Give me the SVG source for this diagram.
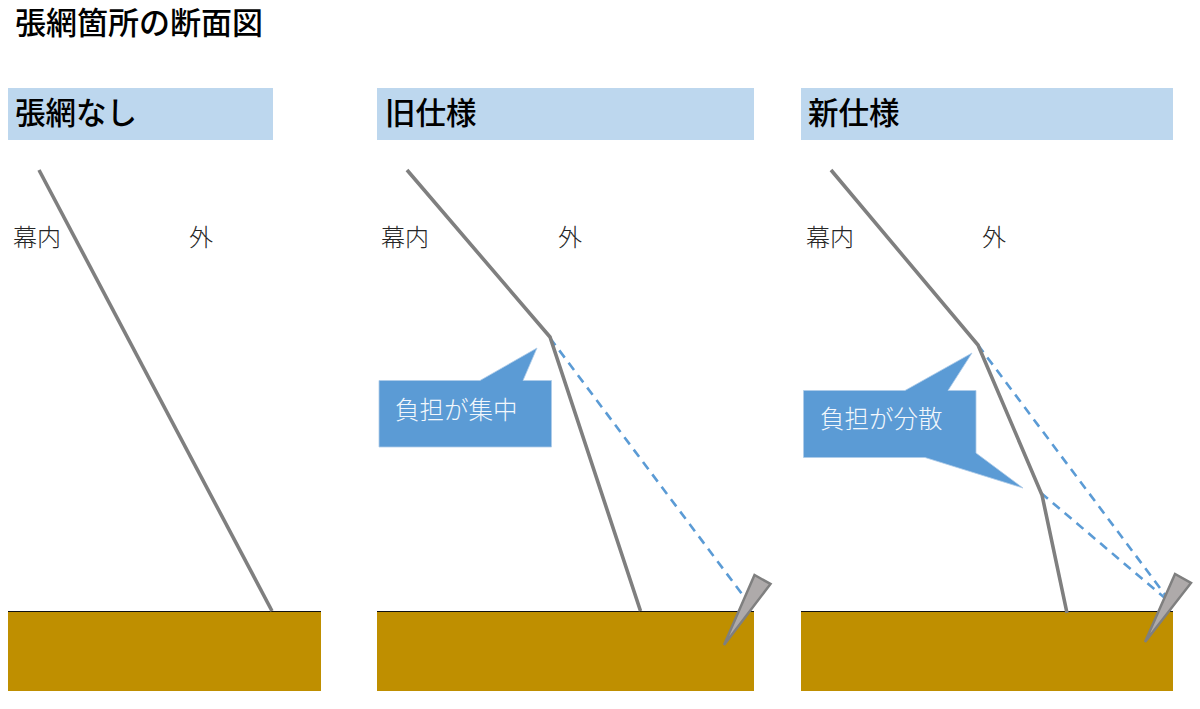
<svg xmlns="http://www.w3.org/2000/svg" width="1200" height="709" viewBox="0 0 1200 709">
<style>
text{font-family:"Noto Sans CJK JP","Noto Sans",sans-serif}
.title{font-size:31px;font-weight:500;fill:#000}
.head{font-size:30.500px;font-weight:500;fill:#000}
.lab{font-size:24px;font-weight:300;fill:#262626}
.call{font-size:24.500px;font-weight:300;fill:#f2f7fc}
.band{fill:#bdd7ee}
.ground{fill:#bf8f00}
.gl{stroke:#111;stroke-width:1.2;fill:none}
.net{stroke:#7f7f7f;stroke-width:3.6;fill:none;stroke-linejoin:miter}
.dash{stroke:#5b9bd5;stroke-width:2.6;stroke-dasharray:9 6.5;fill:none}
.bub{fill:#5b9bd5;stroke:#aecbe9;stroke-width:.8}
.peg{fill:#aeaaaa;stroke:#7f7f7f;stroke-width:2.5;stroke-linejoin:miter}
</style>
<text class="title" x="15" y="34">張網箇所の断面図</text>
<g id="panel-none">
<rect class="band" x="8" y="88" width="265" height="52"/>
<text class="head" x="15" y="124">張網なし</text>
<text class="lab" x="13" y="246">幕内</text>
<text class="lab" x="189" y="246">外</text>
<rect class="ground" x="8" y="612" width="313" height="79"/>
<line class="gl" x1="8" y1="611.500" x2="321" y2="611.500"/>
</g>
<g id="panel-old">
<rect class="band" x="377" y="88" width="377" height="52"/>
<text class="head" x="385" y="124">旧仕様</text>
<text class="lab" x="381" y="246">幕内</text>
<text class="lab" x="558" y="246">外</text>
<rect class="ground" x="377" y="612" width="377" height="79"/>
<line class="gl" x1="377" y1="611.500" x2="754" y2="611.500"/>
</g>
<g id="panel-new">
<rect class="band" x="801" y="88" width="372" height="52"/>
<text class="head" x="808" y="124">新仕様</text>
<text class="lab" x="806" y="246">幕内</text>
<text class="lab" x="982" y="246">外</text>
<rect class="ground" x="801" y="612" width="372" height="79"/>
<line class="gl" x1="801" y1="611.500" x2="1173" y2="611.500"/>
</g>
<g id="connectors">
<polyline class="dash" points="550,338 754,610"/>
<polyline class="dash" points="978,345 1172,604"/>
<polyline class="dash" points="1041,493 1172,604"/>
<polyline class="net" points="39,170 272,611"/>
<polyline class="net" points="407,170 550,337 640.500,611"/>
<polyline class="net" points="831,170 978,345 1042,495 1067,613"/>
</g>
<g id="peg-old"><polygon class="peg" points="724,645 754.500,575 770.500,584"/></g>
<g id="peg-new"><polygon class="peg" points="1145,642 1175,574 1191,583"/></g>
<g id="callout-old">
<polygon class="bub" points="379,380.500 480,380.500 537,348 523,380.500 551.500,380.500 551.500,447 379,447"/>
<text class="call" x="395" y="419">負担が集中</text>
</g>
<g id="callout-new">
<polygon class="bub" points="803.500,390.500 905,390.500 972,353 948,390.500 976,390.500 976,453 1023,488 925,457.500 803.500,457.500"/>
<text class="call" x="820" y="428">負担が分散</text>
</g>
</svg>
